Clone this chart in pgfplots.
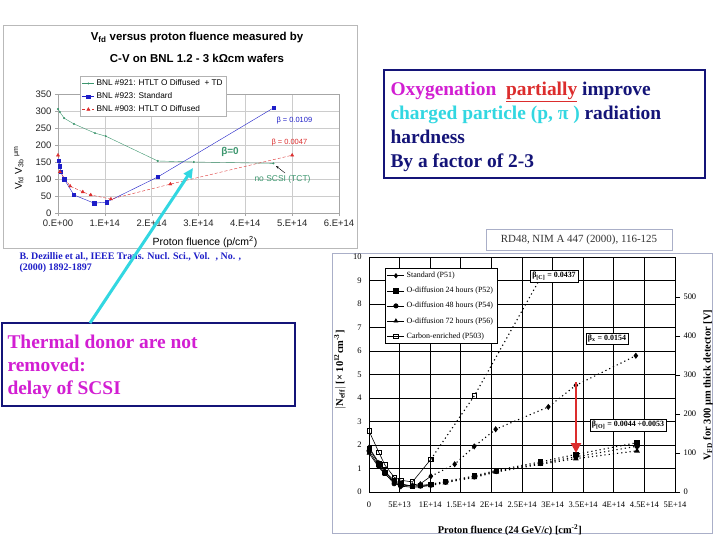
\documentclass[border=0pt]{standalone}
\usepackage{fontspec}
\setmainfont{Liberation Serif}
\newfontfamily\arial{Liberation Sans}
\usepackage{pgfplots}
\pgfplotsset{compat=1.18}
\usetikzlibrary{arrows.meta}

\definecolor{gr}{RGB}{60,150,110}
\definecolor{bl}{RGB}{30,30,200}
\definecolor{rd}{RGB}{220,45,45}
\definecolor{navy}{RGB}{20,20,120}
\definecolor{mag}{RGB}{210,30,210}
\definecolor{cy}{RGB}{50,215,225}
\definecolor{frame}{RGB}{170,175,200}

\begin{document}
\begin{tikzpicture}
\useasboundingbox[fill=white] (0,0) rectangle (720bp,-540bp);

% ---------------- left chart ----------------
\draw[gray!55] (3bp,-25bp) rectangle (357bp,-248bp);

\begin{axis}[
  scale only axis, width=281bp, height=119bp,
  at={(58bp,-213bp)}, anchor=south west,
  xmin=0, xmax=6, ymin=0, ymax=350,
  xtick={0,...,6},
  xticklabels={0.E+00,1.E+14,2.E+14,3.E+14,4.E+14,5.E+14,6.E+14},
  ytick={0,50,...,350},
  grid=major, grid style={gray!40, line width=0.5pt},
  axis line style={gray!70}, tick style={gray!70},
  tick align=outside, major tick length=3bp,
  xtick pos=lower, ytick pos=left,
  tick label style={font=\arial\fontsize{9.5}{10}\selectfont, text=black!85},
  /pgf/number format/assume math mode=true,
  xlabel={Proton fluence (p/cm\textsuperscript{2})},
  xlabel style={font=\arial\fontsize{10.5}{11}\selectfont, at={(axis description cs:0.523,0)}, anchor=center, yshift=-29bp},
  legend style={at={(0.08,1.151)}, anchor=north west, draw=gray!60, fill=white,
    font=\arial\fontsize{8.3}{9}\selectfont, row sep=1.5bp, inner sep=1.5bp},
  legend cell align=left,
  legend image code/.code={\draw[mark repeat=2, mark phase=2] plot coordinates {(0bp,0bp) (6bp,0bp) (12bp,0bp)};},
]
\addplot[gr, thin, mark=*, mark size=0.8bp] coordinates {
  (0,306) (0.04,297) (0.13,279) (0.34,262) (0.79,235) (1.02,226) (2.13,153) (2.9,150) (4.6,146)};
\addlegendentry{BNL \#921: HTLT O Diffused \ + TD}
\addplot[bl, thin, mark=square*, mark size=1.7bp] coordinates {
  (0.02,153) (0.04,138) (0.06,121) (0.13,100) (0.34,53) (0.77,29) (1.04,32) (2.13,106) (4.6,309)};
\addlegendentry{BNL \#923: Standard}
\addplot[rd, thin, densely dashed, mark=triangle*, mark size=1.8bp, mark options={solid}] coordinates {
  (0,170) (0.04,121) (0.26,79) (0.53,62) (0.7,53) (1.13,41) (2.4,85) (5.0,170)};
\addlegendentry{BNL \#903: HTLT O Diffused}
\end{axis}

\node[font=\arial\bfseries\fontsize{11.5}{12}\selectfont] at (197bp,-38bp) {V\textsubscript{fd} versus proton fluence measured by};
\node[font=\arial\bfseries\fontsize{11.5}{12}\selectfont] at (197bp,-58bp) {C-V on BNL 1.2 - 3 kΩcm wafers};
\node[rotate=90, font=\arial\fontsize{10}{11}\selectfont] at (19bp,-168bp) {V\textsubscript{fd} V\textsubscript{3b} \textsuperscript{μm}};

\node[anchor=west, text=bl, font=\arial\fontsize{7.5}{8}\selectfont] at (273bp,-121bp) {β = 0.0109};
\node[anchor=west, text=rd, font=\arial\fontsize{7.5}{8}\selectfont] at (268bp,-143bp) {β = 0.0047};
\node[text=gr, font=\arial\bfseries\fontsize{10}{10}\selectfont] at (230bp,-152bp) {β=0};
\node[anchor=west, text=gr, font=\arial\fontsize{8.5}{9}\selectfont] at (251bp,-179bp) {no SCSI (TCT)};
\draw[-{Stealth[length=3bp]}, black] (285bp,-173bp) -- (276bp,-166bp);

\node[anchor=west, text=bl, font=\bfseries\fontsize{10}{10}\selectfont] at (16bp,-257bp) {B. Dezillie et al., IEEE Trans. Nucl. Sci., Vol. \ , No. ,};
\node[anchor=west, text=bl, font=\bfseries\fontsize{10}{10}\selectfont] at (16bp,-268bp) {(2000) 1892-1897};

% text boxes
\draw[navy, line width=1.5bp] (2bp,-323bp) rectangle (295bp,-406bp);
\node[anchor=north west, align=left, text=mag, font=\bfseries\fontsize{19.5}{23.5}\selectfont] at (4bp,-331bp)
  {Thermal donor are not\\removed:\\delay of SCSI};

\draw[navy, line width=1.5bp] (384bp,-70bp) rectangle (705bp,-178bp);
\node[anchor=north west, align=left, text=navy, font=\bfseries\fontsize{19.5}{24}\selectfont] at (387bp,-78.5bp)
  {\textcolor{mag}{Oxygenation} \ \textcolor{rd}{\underline{partially}} improve\\
   \textcolor{cy}{charged particle (p, π )} radiation\\
   hardness\\
   By a factor of 2-3};

\draw[cy, line width=3bp, -{Triangle[width=9bp,length=10bp]}] (90bp,-323bp) -- (193bp,-168bp);

% ---------------- right chart ----------------
\draw[frame] (332bp,-253bp) rectangle (712bp,-533bp);
\node[draw=frame, fill=white, text=black!80, font=\fontsize{11}{12}\selectfont,
  minimum width=186bp, minimum height=21bp] at (579bp,-239.5bp) {RD48, NIM A 447 (2000), 116-125};

\begin{axis}[
  scale only axis, width=306bp, height=235bp,
  at={(369bp,-492bp)}, anchor=south west,
  xmin=0, xmax=5, ymin=0, ymax=10,
  xtick={0,0.5,...,5},
  xticklabels={0,5E+13,1E+14,1.5E+14,2E+14,2.5E+14,3E+14,3.5E+14,4E+14,4.5E+14,5E+14},
  ytick={0,...,10},
  grid=major, grid style={black, line width=0.8pt},
  axis line style={black, line width=0.8pt},
  major tick length=0pt,
  xtick pos=lower, ytick pos=left,
  tick label style={font=\fontsize{8.5}{9}\selectfont},
  xticklabel style={yshift=-6bp},
  yticklabel style={xshift=-4bp},
  /pgf/number format/assume math mode=true,
  xlabel={Proton fluence (24 GeV/\textit{c}) [cm\textsuperscript{-2}]},
  xlabel style={font=\bfseries\fontsize{10.4}{11}\selectfont, at={(axis description cs:0.46,0)}, anchor=center, yshift=-38bp},
  ylabel={$\mid$N\textsubscript{eff}$\mid$ [× 10\textsuperscript{12}cm\textsuperscript{-3}]},
  ylabel style={font=\bfseries\fontsize{10.5}{11}\selectfont, at={(axis description cs:0,0.52)}, anchor=center, yshift=29bp},
  legend style={at={(0.052,0.953)}, anchor=north west, draw=black, fill=white,
    font=\fontsize{8}{9}\selectfont, row sep=4bp, inner sep=2bp},
  legend cell align=left,
  every axis plot/.append style={black, line width=0.6pt, mark size=2.2bp, mark options={solid, fill=black}},
]
% low-fluence solid parts
\addplot[mark=diamond*] coordinates {
  (0,1.9) (0.16,1.25) (0.26,0.9) (0.41,0.4) (0.52,0.22) (0.71,0.3) (0.84,0.35) (1.01,0.67)};
\addlegendentry{Standard (P51)}
\addplot[mark=square*] coordinates {
  (0,1.85) (0.16,1.2) (0.26,0.85) (0.41,0.5) (0.52,0.35) (0.71,0.25) (0.84,0.28) (1.01,0.33)};
\addlegendentry{O-diffusion 24 hours (P52)}
\addplot[mark=*] coordinates {
  (0,1.75) (0.16,1.1) (0.26,0.8) (0.41,0.35) (0.52,0.3) (0.71,0.25) (0.84,0.25) (1.01,0.3)};
\addlegendentry{O-diffusion 48 hours (P54)}
\addplot[mark=triangle*] coordinates {
  (0,1.65) (0.16,1.05) (0.26,0.75) (0.41,0.45) (0.52,0.25) (0.71,0.2) (0.84,0.22) (1.01,0.28)};
\addlegendentry{O-diffusion 72 hours (P56)}
\addplot[mark=square, mark options={solid, fill=white}] coordinates {
  (0,2.6) (0.16,1.69) (0.26,1.15) (0.41,0.63) (0.52,0.5) (0.71,0.43) (1.01,1.39)};
\addlegendentry{Carbon-enriched (P503)}
% high-fluence dotted parts
\addplot[forget plot, line width=1.1pt, dash pattern=on 1.2bp off 3bp, mark=diamond*] coordinates {
  (1.01,0.67) (1.4,1.18) (1.72,1.94) (2.07,2.67) (2.93,3.62) (3.38,4.54) (4.36,5.8)};
\addplot[forget plot, line width=1.1pt, dash pattern=on 1.2bp off 3bp, mark=square*] coordinates {
  (1.01,0.33) (1.25,0.45) (1.72,0.68) (2.08,0.92) (2.8,1.28) (3.38,1.6) (4.38,2.1)};
\addplot[forget plot, line width=1.1pt, dash pattern=on 1.2bp off 3bp, mark=*] coordinates {
  (1.01,0.3) (1.25,0.42) (1.72,0.65) (2.08,0.88) (2.8,1.22) (3.38,1.5) (4.38,1.95)};
\addplot[forget plot, line width=1.1pt, dash pattern=on 1.2bp off 3bp, mark=triangle*] coordinates {
  (1.01,0.28) (1.25,0.4) (1.72,0.62) (2.08,0.85) (2.8,1.18) (3.38,1.42) (4.38,1.75)};
\addplot[forget plot, line width=1.1pt, dash pattern=on 1.2bp off 3bp, mark=square, mark options={solid, fill=white}] coordinates {
  (1.01,1.39) (1.72,4.09) (2.8,9.1)};
\end{axis}

\begin{axis}[
  scale only axis, width=306bp, height=235bp,
  at={(369bp,-492bp)}, anchor=south west,
  xmin=0, xmax=5, ymin=0, ymax=602,
  axis x line=none, axis y line*=right,
  ytick={0,100,...,500},
  axis line style={black, line width=0.8pt}, tick style={black, line width=0.6pt},
  tick align=outside, major tick length=5bp,
  tick label style={font=\fontsize{8.5}{9}\selectfont},
  /pgf/number format/assume math mode=true,
  ylabel={V\textsubscript{FD} for 300 μm thick detector [V]},
  ylabel style={font=\bfseries\fontsize{10.5}{11}\selectfont, at={(axis description cs:1,0.455)}, anchor=center, yshift=-33bp},
]
\addplot[draw=none] coordinates {(0,0)};
\end{axis}

\node[draw, fill=white, font=\bfseries\fontsize{8}{8}\selectfont, inner sep=2bp] at (554bp,-276bp) {β\textsubscript{[C]} = 0.0437};
\node[draw, fill=white, font=\bfseries\fontsize{8}{8}\selectfont, inner sep=2bp] at (607bp,-339bp) {β\textsubscript{x} = 0.0154};
\node[draw, fill=white, font=\bfseries\fontsize{8}{8}\selectfont, inner sep=2bp] at (628bp,-425bp) {β\textsubscript{[O]} = 0.0044 ÷0.0053};
\draw[rd, line width=2.5bp, -{Triangle[width=10bp,length=10bp]}] (576bp,-382bp) -- (576bp,-453bp);

\end{tikzpicture}
\end{document}
